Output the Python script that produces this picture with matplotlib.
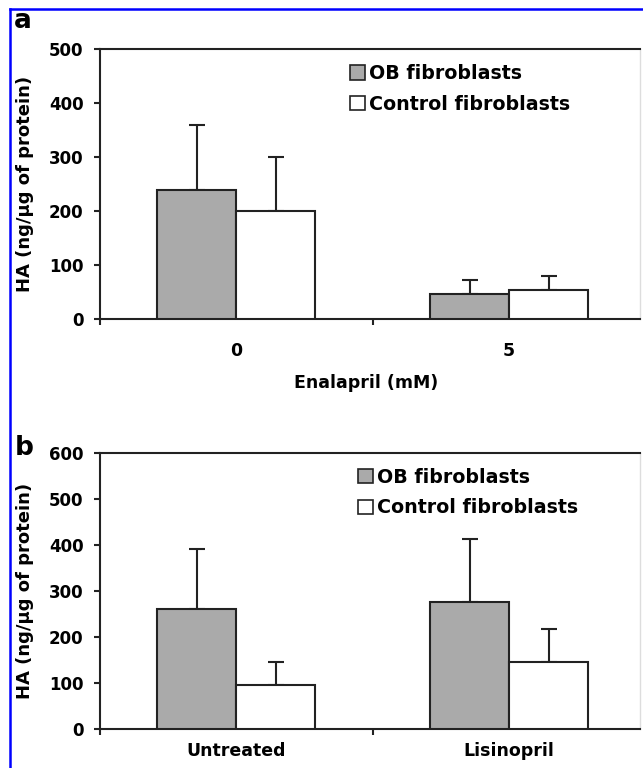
import matplotlib
matplotlib.use("Agg")
import matplotlib.pyplot as plt
from matplotlib.patches import Patch
from matplotlib.lines import Line2D
import numpy as np

# ---- data ----
series_names = ["OB fibroblasts", "Control fibroblasts"]

a_categories = ["0", "5"]
a_ob = [240, 47]
a_ob_err = [120, 25]
a_ctrl = [200, 54]
a_ctrl_err = [100, 26]

b_categories = ["Untreated", "Lisinopril"]
b_ob = [260, 277]
b_ob_err = [132, 135]
b_ctrl = [97, 147]
b_ctrl_err = [50, 71]

a_yticks = [0, 100, 200, 300, 400, 500]
b_yticks = [0, 100, 200, 300, 400, 500, 600]

GRAY = "#aaaaaa"
W, H = 643, 768
plt.rcParams['font.family'] = ['DejaVu Sans']
plt.rcParams['font.weight'] = 'bold'

fig = plt.figure(figsize=(W / 100, H / 100), dpi=100)


def px_axes(left, top, right, bottom):
    return fig.add_axes([left / W, 1 - bottom / H, (right - left) / W, (bottom - top) / H])


def panel(ax, cats, ob, ob_err, ctrl, ctrl_err, yticks, xpad, leg_x, leg_y):
    x = np.arange(len(cats))
    w = 0.29
    ax.bar(x, ob, width=-w, align='edge', color=GRAY, edgecolor='#222222', linewidth=1.5, zorder=3)
    ax.bar(x, ctrl, width=w, align='edge', color='white', edgecolor='#222222', linewidth=1.5, zorder=3)
    ax.errorbar(x - w / 2, ob, yerr=[np.zeros(len(ob)), ob_err], fmt='none', ecolor='#222222',
                elinewidth=1.5, capsize=5.8, capthick=1.5, zorder=2)
    ax.errorbar(x + w / 2, ctrl, yerr=[np.zeros(len(ctrl)), ctrl_err], fmt='none', ecolor='#222222',
                elinewidth=1.5, capsize=5.8, capthick=1.5, zorder=2)
    ax.set_xlim(-0.5, 1.48)
    ax.set_ylim(yticks[0], yticks[-1])
    ax.set_yticks(yticks)
    ax.tick_params(axis='y', direction='out', length=4.3, width=1.5, color='#222222',
                   labelsize=12, pad=7.5)
    ax.set_xticks(x)
    ax.set_xticklabels(cats, fontsize=12.5, fontweight='bold')
    ax.tick_params(axis='x', which='major', length=0, pad=xpad)
    ax.set_xticks([-0.5, 0.5], minor=True)
    ax.tick_params(axis='x', which='minor', direction='out', length=4.3, width=1.5, color='#222222')
    for s in ['left', 'bottom', 'top']:
        ax.spines[s].set_color('#222222')
        ax.spines[s].set_linewidth(1.5)
    ax.spines['right'].set_color('#dddddd')
    ax.spines['right'].set_linewidth(1.0)
    handles = [Patch(facecolor=GRAY, edgecolor='#222222', linewidth=1.2),
               Patch(facecolor='white', edgecolor='#222222', linewidth=1.2)]
    ax.legend(handles, series_names, loc='upper left', bbox_to_anchor=(leg_x, leg_y),
              frameon=False, prop={'size': 13.7, 'weight': 'bold'},
              handlelength=0.8, handleheight=0.8, handletextpad=0.2, labelspacing=0.62,
              borderaxespad=0, borderpad=0)


axa = px_axes(100, 49, 640, 319.3)
panel(axa, a_categories, a_ob, a_ob_err, a_ctrl, a_ctrl_err, a_yticks, 16,
      (350 - 100) / 540, 0.945)

axb = px_axes(100, 452.7, 640, 729.3)
panel(axb, b_categories, b_ob, b_ob_err, b_ctrl, b_ctrl_err, b_yticks, 9,
      (358 - 100) / 540, 0.946)

# axis labels
ylab = "HA (ng/μg of protein)"
fig.text(25 / W, 1 - 184 / H, ylab, rotation=90, ha='center', va='center', fontsize=13, fontweight='bold')
fig.text(25 / W, 1 - 591 / H, ylab, rotation=90, ha='center', va='center', fontsize=13, fontweight='bold')
fig.text(366 / W, 1 - 383 / H, "Enalapril (mM)", ha='center', va='center', fontsize=12.5, fontweight='bold')

# panel letters
fig.text(14 / W, 1 - 28 / H, "a", ha='left', va='baseline', fontsize=19, fontweight='bold')
fig.text(15 / W, 1 - 455 / H, "b", ha='left', va='baseline', fontsize=19, fontweight='bold')

# blue frame
fig.add_artist(Line2D([10 / W, 10 / W], [0, 1 - 9 / H], color='#0000ff', linewidth=1.8,
                      transform=fig.transFigure))
fig.add_artist(Line2D([10 / W, 1], [1 - 9 / H, 1 - 9 / H], color='#0000ff', linewidth=1.8,
                      transform=fig.transFigure))

fig.savefig("out.png", dpi=100)
